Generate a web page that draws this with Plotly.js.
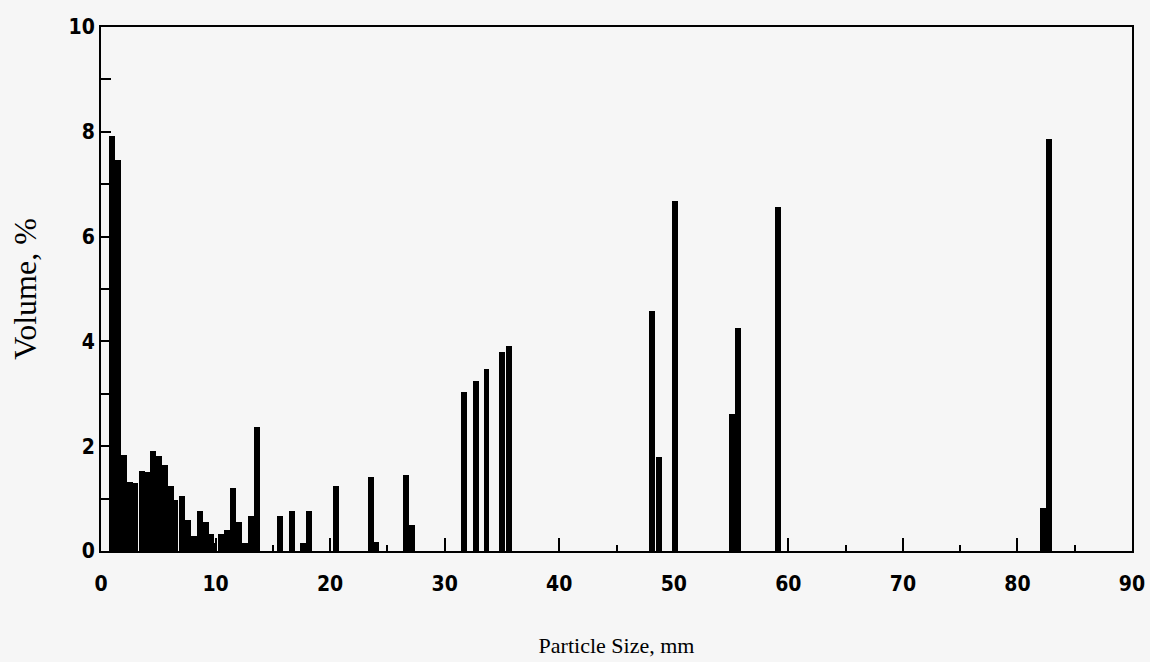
<!DOCTYPE html>
<html>
<head>
<meta charset="utf-8">
<script src="https://cdn.plot.ly/plotly-3.0.1.min.js"></script>
<style>
  html, body { margin: 0; padding: 0; background: #f6f6f6; }
  #chart { width: 1150px; height: 662px; }
</style>
</head>
<body>
<div id="chart"></div>
<script>
// Particle size (mm) of each bar
const particleSize = [
  1.0, 1.5, 2.0, 2.5, 3.0, 3.55, 4.1, 4.57, 5.05, 5.57, 6.07, 6.5, 7.05, 7.6,
  8.08, 8.6, 9.19, 9.6, 9.9, 10.5, 11.02, 11.53, 12.07, 12.6, 13.12, 13.63,
  15.65, 16.65, 17.6, 18.15, 20.55, 23.55, 24.05, 26.6, 27.15,
  31.7, 32.7, 33.65, 35.0, 35.65,
  48.1, 48.7, 50.1, 55.05, 55.6, 59.1, 82.2, 82.75
];
// Volume (%) of each bar
const volumePct = [
  7.92, 7.46, 1.83, 1.31, 1.29, 1.53, 1.50, 1.90, 1.81, 1.64, 1.24, 0.97, 1.05, 0.59,
  0.29, 0.76, 0.55, 0.32, 0.15, 0.32, 0.40, 1.20, 0.55, 0.15, 0.66, 2.37,
  0.66, 0.76, 0.15, 0.76, 1.24, 1.42, 0.18, 1.45, 0.50,
  3.04, 3.25, 3.47, 3.80, 3.91,
  4.58, 1.80, 6.67, 2.61, 4.25, 6.56, 0.83, 7.86
];
const xTickVals = [0, 10, 20, 30, 40, 50, 60, 70, 80, 90];
const yTickVals = [0, 2, 4, 6, 8, 10];
const yTickMarkVals = [0, 1, 2, 3, 4, 5, 6, 7, 8, 9, 10];

const trace = {
  type: 'bar', x: particleSize, y: volumePct, width: 0.52,
  marker: { color: '#000000', line: { width: 0 } }, hoverinfo: 'x+y'
};
// empty helper trace so the overlaid tick-mark axis is drawn
const tickHelper = { type: 'scatter', x: [], y: [], yaxis: 'y2', showlegend: false, hoverinfo: 'skip' };

const tickFont = { family: '"DejaVu Sans Condensed", "DejaVu Sans", sans-serif', size: 21, color: '#000', weight: 'bold' };
const xTitleFont = { family: '"Liberation Serif", "Times New Roman", serif', size: 22, color: '#000' };
const yTitleFont = { family: '"Liberation Serif", "Times New Roman", serif', size: 32, color: '#000' };

const layout = {
  width: 1150, height: 662,
  paper_bgcolor: '#f6f6f6', plot_bgcolor: '#f6f6f6',
  margin: { l: 101, r: 18, t: 27, b: 111 },
  showlegend: false, bargap: 0,
  xaxis: {
    range: [0, 90], tickvals: xTickVals, ticktext: xTickVals.map(String),
    ticks: 'inside', ticklen: 13, tickwidth: 2, tickcolor: '#000',
    minor: { dtick: 5, ticks: 'inside', ticklen: 6, tickwidth: 2, tickcolor: '#000' },
    showline: true, linecolor: '#000', linewidth: 2, mirror: true,
    showgrid: false, zeroline: false, tickfont: tickFont, ticklabelstandoff: 13,
    title: { text: 'Particle Size, mm', font: xTitleFont, standoff: 42 },
    automargin: false
  },
  yaxis: {
    range: [0, 10], tickvals: yTickVals, ticktext: yTickVals.map(String),
    ticks: '', showline: true, linecolor: '#000', linewidth: 2, mirror: true,
    showgrid: false, zeroline: false, tickfont: tickFont,
    title: { text: 'Volume, %', font: yTitleFont, standoff: 22 },
    automargin: false
  },
  yaxis2: {
    overlaying: 'y', side: 'left', range: [0, 10], tickvals: yTickMarkVals,
    ticks: 'inside', ticklen: 10, tickwidth: 2, tickcolor: '#000',
    showticklabels: false, showline: false, showgrid: false, zeroline: false,
    automargin: false
  }
};

Plotly.newPlot('chart', [trace, tickHelper], layout, { displayModeBar: false, staticPlot: true });
</script>
</body>
</html>
